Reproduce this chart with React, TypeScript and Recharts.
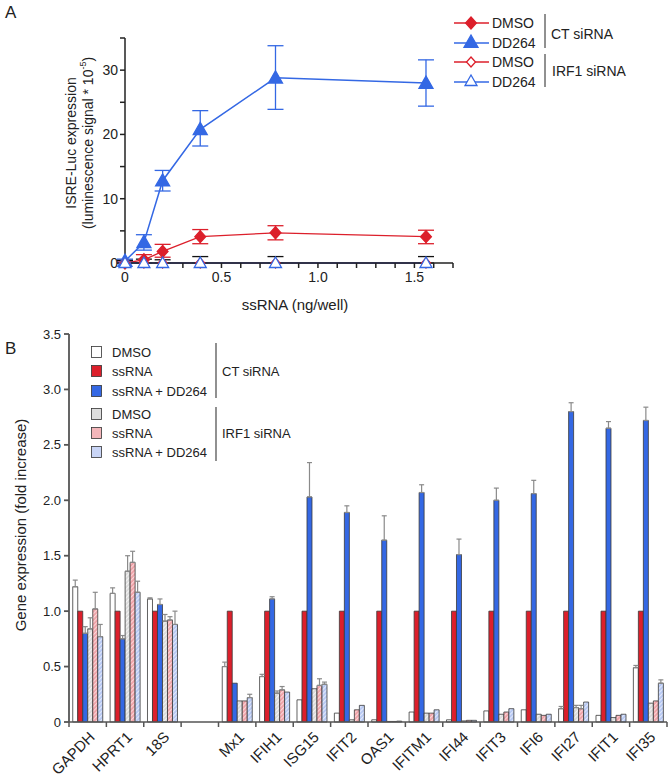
import React from "react";
import { ComposedChart, Line, XAxis, YAxis, ErrorBar, BarChart, Bar } from "recharts";

// ---- panel A: ISRE-Luc dose response ----
const doses = [0, 0.098, 0.195, 0.39, 0.78, 1.56];
const ctDmso = [0, 0.5, 1.8, 4.1, 4.7, 4.1];
const ctDmsoLow = [0, 0, 0.9, 3.0, 3.6, 3.0];
const ctDmsoHigh = [0.3, 1.3, 2.9, 5.2, 5.8, 5.1];
const ctDd264 = [0.3, 3.2, 12.8, 20.8, 28.8, 28.0];
const ctDd264Low = [0.1, 2.0, 11.2, 18.2, 23.9, 24.4];
const ctDd264High = [0.6, 4.4, 14.4, 23.7, 33.8, 31.6];
const irfDmso = [0, 0, 0, 0, 0, 0];
const irfDd264 = [0, 0, 0, 0, 0, 0];
const irfHigh = [0.4, 0.6, 0.5, 1.0, 1.0, 1.0];

const doseTicks = [0, 0.1, 0.2, 0.3, 0.4, 0.5, 0.6, 0.7, 0.8, 0.9, 1, 1.1, 1.2, 1.3, 1.4, 1.5, 1.6, 1.7];
const doseLabelled = [0, 0.5, 1, 1.5];
const lucTicks = [0, 5, 10, 15, 20, 25, 30, 35];
const lucLabelled = [0, 10, 20, 30];

// ---- panel B: gene expression ----
const genes = ["GAPDH", "HPRT1", "18S", "", "Mx1", "IFIH1", "ISG15", "IFIT2", "OAS1", "IFITM1", "IFI44", "IFIT3", "IFI6", "IFI27", "IFIT1", "IFI35"];
const ctDmsoB = [1.22, 1.16, 1.11, null, 0.5, 0.41, 0.2, 0.08, 0.02, 0.09, 0.02, 0.1, 0.11, 0.12, 0.06, 0.49];
const ctDmsoTop = [1.28, 1.21, 1.12, null, 0.54, 0.43, null, null, null, null, null, null, null, 0.14, null, 0.51];
const ctSsB = [1, 1, 1, null, 1, 1, 1, 1, 1, 1, 1, 1, 1, 1, 1, 1];
const ctDdB = [0.8, 0.75, 1.06, null, 0.35, 1.11, 2.03, 1.89, 1.64, 2.07, 1.51, 2.0, 2.06, 2.8, 2.65, 2.72];
const ctDdTop = [0.86, 0.78, 1.11, null, null, 1.13, 2.34, 1.95, 1.86, 2.14, 1.65, 2.11, 2.18, 2.88, 2.71, 2.84];
const irDmsoB = [0.84, 1.36, 0.91, null, 0.19, 0.26, 0.3, 0.02, 0.005, 0.08, 0.01, 0.07, 0.07, 0.13, 0.04, 0.17];
const irDmsoTop = [0.94, 1.5, 0.97, null, null, 0.28, null, null, null, null, null, null, null, 0.15, null, null];
const irSsB = [1.02, 1.44, 0.92, null, 0.19, 0.29, 0.33, 0.11, 0.005, 0.08, 0.015, 0.09, 0.06, 0.12, 0.06, 0.19];
const irSsTop = [1.17, 1.54, 0.95, null, null, 0.32, 0.39, null, null, null, null, null, null, 0.15, null, null];
const irDdB = [0.77, 1.17, 0.88, null, 0.22, 0.27, 0.34, 0.15, 0.008, 0.11, 0.015, 0.12, 0.07, 0.18, 0.07, 0.35];
const irDdTop = [0.88, 1.27, 1.0, null, 0.25, null, 0.36, null, null, null, null, null, null, null, null, 0.38];
const foldTicks = [0, 0.5, 1, 1.5, 2, 2.5, 3, 3.5];

const RED = "#dc1f2b";
const BLUE = "#3468e4";
const FONT = "'Liberation Sans', Arial, sans-serif";

const doseData = doses.map((x, i) => ({
  x,
  ctDmso: ctDmso[i],
  ctDmsoErr: [ctDmso[i] - ctDmsoLow[i], ctDmsoHigh[i] - ctDmso[i]],
  ctDd: ctDd264[i],
  ctDdErr: [ctDd264[i] - ctDd264Low[i], ctDd264High[i] - ctDd264[i]],
  irDmso: irfDmso[i],
  irDd: irfDd264[i],
  irDdErr: [0, irfHigh[i] - irfDd264[i]],
}));

const errOf = (v: number | null, top: number | null) =>
  v == null || top == null ? null : [0, top - v];

const barSeries = [
  { key: "s0", vals: ctDmsoB, tops: ctDmsoTop, fill: "#ffffff" },
  { key: "s1", vals: ctSsB, tops: ctSsB.map(() => null), fill: RED },
  { key: "s2", vals: ctDdB, tops: ctDdTop, fill: BLUE },
  { key: "s3", vals: irDmsoB, tops: irDmsoTop, fill: "url(#hGray)" },
  { key: "s4", vals: irSsB, tops: irSsTop, fill: "url(#hPink)" },
  { key: "s5", vals: irDdB, tops: irDdTop, fill: "url(#hBlue)" },
];

const geneData = genes.map((gene, i) => {
  const row: Record<string, any> = { gene };
  barSeries.forEach((s) => {
    row[s.key] = s.vals[i];
    row[s.key + "e"] = errOf(s.vals[i], s.tops[i] as number | null);
  });
  return row;
});

const diamond = (fill: string, open: boolean) => (p: any) => {
  const { cx, cy, index } = p;
  const r = open ? 5 : 6;
  return (
    <path
      key={`d${index}`}
      d={`M${cx},${cy - r} L${cx + r * 0.9},${cy} L${cx},${cy + r} L${cx - r * 0.9},${cy} Z`}
      fill={open ? "#fff" : fill}
      stroke={fill}
      strokeWidth={1.3}
    />
  );
};

const triangle = (fill: string, open: boolean) => (p: any) => {
  const { cx, cy, index } = p;
  const r = open ? 6 : 7;
  return (
    <path
      key={`t${index}`}
      d={`M${cx},${cy - r} L${cx + r},${cy + r * 0.75} L${cx - r},${cy + r * 0.75} Z`}
      fill={open ? "#fff" : fill}
      stroke={fill}
      strokeWidth={1.3}
    />
  );
};

const GeneTick = (props: any) => {
  const { x, y, payload, index } = props;
  const half = payload?.offset ?? 18.7;
  const last = index === genes.length - 1;
  return (
    <g>
      <line x1={x - half} y1={y} x2={x - half} y2={y + 5} stroke="#555" strokeWidth={1.5} />
      {last && <line x1={x + half} y1={y} x2={x + half} y2={y + 5} stroke="#555" strokeWidth={1.5} />}
      <text
        x={0}
        y={0}
        transform={`translate(${x + 8},${y + 16}) rotate(-45)`}
        textAnchor="end"
        fontSize={15}
        fill="#222"
        fontFamily={FONT}
      >
        {payload.value}
      </text>
    </g>
  );
};

function LegendA() {
  const rows = [
    { y: 23, label: "DMSO", m: "d", open: false, c: RED },
    { y: 43, label: "DD264", m: "t", open: false, c: BLUE },
    { y: 62, label: "DMSO", m: "d", open: true, c: RED },
    { y: 82, label: "DD264", m: "t", open: true, c: BLUE },
  ];
  return (
    <g>
      {rows.map((r, i) => (
        <g key={i}>
          <line x1={454} x2={489} y1={r.y} y2={r.y} stroke={r.c} strokeWidth={1.3} />
          {r.m === "d"
            ? diamond(r.c, r.open)({ cx: 471, cy: r.y, index: i })
            : triangle(r.c, r.open)({ cx: 471, cy: r.y - 1, index: i })}
          <text x={492} y={r.y} dominantBaseline="central" fontSize={14}>{r.label}</text>
        </g>
      ))}
      <line x1={545} x2={545} y1={14} y2={48} stroke="#222" />
      <line x1={545} x2={545} y1={54} y2={87} stroke="#222" />
      <text x={551} y={34} dominantBaseline="central" fontSize={14}>CT siRNA</text>
      <text x={552} y={71} dominantBaseline="central" fontSize={14}>IRF1 siRNA</text>
    </g>
  );
}

function LegendB() {
  const rows = [
    { y: 352, label: "DMSO", fill: "#fff" },
    { y: 371, label: "ssRNA", fill: RED },
    { y: 391, label: "ssRNA + DD264", fill: BLUE },
    { y: 414, label: "DMSO", fill: "#dedede" },
    { y: 433, label: "ssRNA", fill: "#f4b6ba" },
    { y: 452, label: "ssRNA + DD264", fill: "#c9d5f6" },
  ];
  return (
    <g>
      {rows.map((r, i) => (
        <g key={i}>
          <rect x={91.5} y={r.y - 5.5} width={10} height={11} fill={r.fill} stroke="#333" strokeWidth={0.8} />
          <text x={112} y={r.y} dominantBaseline="central" fontSize={13}>{r.label}</text>
        </g>
      ))}
      <line x1={216} x2={216} y1={343} y2={398} stroke="#555" strokeWidth={1.3} />
      <line x1={216} x2={216} y1={407} y2={461} stroke="#555" strokeWidth={1.3} />
      <text x={222} y={371} dominantBaseline="central" fontSize={13}>CT siRNA</text>
      <text x={222} y={433} dominantBaseline="central" fontSize={13}>IRF1 siRNA</text>
    </g>
  );
}

export default function App() {
  return (
    <div style={{ position: "absolute", left: 0, top: 0, width: 670, height: 779, background: "#fff", fontFamily: FONT }}>
      <div style={{ position: "absolute", left: 0, top: 0 }}>
        <ComposedChart width={670} height={320} data={doseData} margin={{ top: 38, right: 217, bottom: 0, left: 65 }}>
          <XAxis
            type="number"
            dataKey="x"
            domain={[0, 1.7]}
            ticks={doseTicks}
            interval={0}
            tickFormatter={(v: number) => (doseLabelled.some((t) => Math.abs(t - v) < 1e-6) ? (v === 0 ? "0" : v.toFixed(1)) : "")}
            tick={{ fill: "#222", fontSize: 14, fontFamily: FONT }}
            tickSize={5}
            tickMargin={4}
            stroke="#222"
            strokeWidth={1.5}
            height={57}
          />
          <YAxis
            domain={[0, 35]}
            ticks={lucTicks}
            interval={0}
            tickFormatter={(v: number) => (lucLabelled.includes(v) ? String(v) : "")}
            tick={{ fill: "#222", fontSize: 14, fontFamily: FONT }}
            tickSize={5}
            tickMargin={2}
            stroke="#222"
            strokeWidth={1.5}
            width={60}
          />
          <Line type="linear" dataKey="ctDmso" stroke={RED} strokeWidth={1.3} dot={diamond(RED, false)} isAnimationActive={false}>
            <ErrorBar dataKey="ctDmsoErr" direction="y" width={8} stroke={RED} strokeWidth={1.3} />
          </Line>
          <Line type="linear" dataKey="ctDd" stroke={BLUE} strokeWidth={1.5} dot={triangle(BLUE, false)} isAnimationActive={false}>
            <ErrorBar dataKey="ctDdErr" direction="y" width={8} stroke={BLUE} strokeWidth={1.3} />
          </Line>
          <Line type="linear" dataKey="irDmso" stroke={RED} strokeWidth={1.3} dot={diamond(RED, true)} isAnimationActive={false} />
          <Line type="linear" dataKey="irDd" stroke={BLUE} strokeWidth={1.3} dot={triangle(BLUE, true)} isAnimationActive={false}>
            <ErrorBar dataKey="irDdErr" direction="y" width={8} stroke="#111" strokeWidth={1.3} />
          </Line>
        </ComposedChart>
      </div>

      <div style={{ position: "absolute", left: 0, top: 320 }}>
        <BarChart
          width={670}
          height={459}
          data={geneData}
          margin={{ top: 14, right: 3, bottom: 0, left: 29 }}
          barCategoryGap="10%"
          barGap={0}
        >
          <defs>
            <pattern id="hGray" patternUnits="userSpaceOnUse" width={3} height={3} patternTransform="rotate(45)">
              <rect width={3} height={3} fill="#d9d9d9" />
              <rect width={1.2} height={3} fill="#f3f3f3" />
            </pattern>
            <pattern id="hPink" patternUnits="userSpaceOnUse" width={3} height={3} patternTransform="rotate(45)">
              <rect width={3} height={3} fill="#ef9fa5" />
              <rect width={1.2} height={3} fill="#fbd6d8" />
            </pattern>
            <pattern id="hBlue" patternUnits="userSpaceOnUse" width={3} height={3} patternTransform="rotate(45)">
              <rect width={3} height={3} fill="#b4c6f3" />
              <rect width={1.2} height={3} fill="#e2e9fb" />
            </pattern>
          </defs>
          <XAxis
            dataKey="gene"
            interval={0}
            tick={<GeneTick />}
            tickLine={false}
            tickSize={0}
            tickMargin={0}
            stroke="#555"
            strokeWidth={1.5}
            height={57}
          />
          <YAxis
            domain={[0, 3.5]}
            ticks={foldTicks}
            interval={0}
            tickFormatter={(v: number) => (v === 0 ? "0" : v.toFixed(1))}
            tick={{ fill: "#222", fontSize: 13, fontFamily: FONT }}
            tickSize={5}
            tickMargin={3}
            stroke="#555"
            strokeWidth={1.8}
            width={40}
          />
          {barSeries.map((s) => (
            <Bar key={s.key} dataKey={s.key} fill={s.fill} stroke="#3a3a3a" strokeWidth={0.8} isAnimationActive={false}>
              <ErrorBar dataKey={s.key + "e"} direction="y" width={2.5} stroke="#8a8a8a" strokeWidth={1.2} />
            </Bar>
          ))}
        </BarChart>
      </div>

      <svg width={670} height={779} style={{ position: "absolute", left: 0, top: 0, pointerEvents: "none" }} fontFamily={FONT} fill="#222">
        <text x={5} y={18} fontSize={17}>A</text>
        <text x={5} y={354} fontSize={17}>B</text>
        <text transform="translate(71,143) rotate(-90)" textAnchor="middle" dominantBaseline="central" fontSize={14}>
          ISRE-Luc expression
        </text>
        <text transform="translate(88,143) rotate(-90)" textAnchor="middle" dominantBaseline="central" fontSize={14}>
          (luminescence signal * 10<tspan dy={-5} fontSize={9}>-5</tspan><tspan dy={5}>)</tspan>
        </text>
        <text x={295} y={304} textAnchor="middle" dominantBaseline="central" fontSize={15}>ssRNA (ng/well)</text>
        <text transform="translate(20,525) rotate(-90)" textAnchor="middle" dominantBaseline="central" fontSize={15}>
          Gene expression (fold increase)
        </text>
        <LegendA />
        <LegendB />
      </svg>
    </div>
  );
}
